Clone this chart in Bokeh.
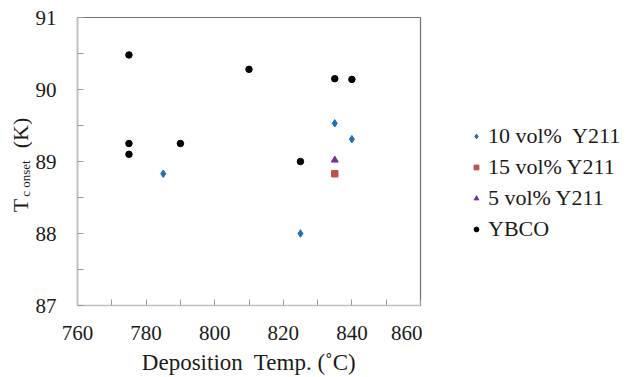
import math
from bokeh.plotting import figure
from bokeh.models import Range1d, Legend, LegendItem, Label, FixedTicker
from bokeh.layouts import row
from bokeh.embed import file_html
from bokeh.resources import INLINE

# data
ybco_x = [775, 775, 775, 790, 810, 825, 835, 840]
ybco_y = [90.48, 89.25, 89.10, 89.25, 90.28, 89.00, 90.15, 90.14]
v10_x = [785, 825, 835, 840]
v10_y = [88.83, 88.00, 89.53, 89.31]
v15_x = [835]
v15_y = [88.83]
v5_x = [835]
v5_y = [89.02]
series_names = ["10 vol%\u00a0 Y211", "15 vol% Y211", "5 vol% Y211", "YBCO"]
x_ticks = [760, 780, 800, 820, 840, 860]
y_ticks = [87, 88, 89, 90, 91]

FONT = "Liberation Serif"
TXT = "#1a1a1a"
styles = [("diamond", 7.5, "#1f6fb5"), ("square", 6.5, "#c0504d"),
          ("triangle", 7, "#7030a0"), ("circle", 6.5, "black")]
legend_sizes = [6, 5.5, 6, 5.5]
series = [(v10_x, v10_y), (v15_x, v15_y), (v5_x, v5_y), (ybco_x, ybco_y)]

# ---- y-axis title strip ----
pl = figure(frame_width=32, height=377, output_backend="svg", toolbar_location=None,
            x_range=Range1d(0, 1), y_range=Range1d(0, 1),
            x_axis_location=None, y_axis_location=None, title=None,
            min_border_left=0, min_border_right=0, min_border_top=0, min_border_bottom=0)
pl.grid.visible = False
pl.outline_line_color = None
lab_T = Label(x=20, y=100, x_units="screen", y_units="screen", text="T",
              angle=math.pi / 2, text_font=FONT, text_font_size="22px",
              text_color=TXT, text_align="center", text_baseline="middle")
lab_sub = Label(x=25, y=127, x_units="screen", y_units="screen", text="c onset",
                angle=math.pi / 2, text_font=FONT, text_font_size="13px",
                text_color=TXT, text_align="center", text_baseline="middle")
lab_K = Label(x=19.5, y=172.5, x_units="screen", y_units="screen", text="(K)",
              angle=math.pi / 2, text_font=FONT, text_font_size="22px",
              text_color=TXT, text_align="center", text_baseline="middle")
for l in (lab_T, lab_sub, lab_K):
    pl.add_layout(l)

# ---- main plot ----
p = figure(width=390, height=377, output_backend="svg", toolbar_location=None,
           x_range=Range1d(760, 860), y_range=Range1d(87, 91),
           min_border_left=41, min_border_right=2, min_border_top=17, min_border_bottom=72)
p.grid.visible = False
p.outline_line_color = "#707070"
p.outline_line_width = 1.2

for ax in (p.xaxis[0], p.yaxis[0]):
    ax.axis_line_color = "#bfbfbf"
    ax.axis_line_width = 1.5
    ax.major_tick_line_color = "#9a9a9a"
    ax.minor_tick_line_color = "#9a9a9a"
    ax.major_tick_in = 6
    ax.major_tick_out = 0
    ax.minor_tick_in = 6
    ax.minor_tick_out = 0
    ax.major_label_text_font = FONT
    ax.major_label_text_font_size = "21px"
    ax.major_label_text_color = TXT

p.xaxis[0].ticker = FixedTicker(ticks=x_ticks, minor_ticks=[770, 790, 810, 830, 850])
p.yaxis[0].ticker = FixedTicker(ticks=y_ticks, minor_ticks=[87.5, 88.5, 89.5, 90.5])
p.xaxis[0].major_label_standoff = 20
p.yaxis[0].major_label_standoff = 21
p.xaxis[0].axis_label = "Deposition\u00a0 Temp. (\u02daC)"
p.xaxis[0].axis_label_text_font = FONT
p.xaxis[0].axis_label_text_font_size = "23px"
p.xaxis[0].axis_label_text_font_style = "normal"
p.xaxis[0].axis_label_text_color = TXT
p.xaxis[0].axis_label_standoff = 7

for (xs, ys), (mk, sz, col) in zip(series, styles):
    p.scatter(xs, ys, marker=mk, size=sz, color=col)

# ---- legend strip (same series, outside this strip's visible range) ----
pg = figure(width=207, height=377, output_backend="svg", toolbar_location=None,
            x_range=Range1d(0, 1), y_range=Range1d(0, 1),
            x_axis_location=None, y_axis_location=None,
            min_border_left=0, min_border_right=0, min_border_top=0, min_border_bottom=0)
pg.grid.visible = False
pg.outline_line_color = None
items = []
for name, (xs, ys), (mk, sz, col), lsz in zip(series_names, series, styles, legend_sizes):
    r = pg.scatter(xs, ys, marker=mk, size=lsz, color=col)
    items.append(LegendItem(label=name, renderers=[r]))
legend = Legend(items=items, location=(48, 63), orientation="vertical",
                glyph_width=12, glyph_height=24, label_height=24, spacing=5,
                label_standoff=6, padding=0, margin=0,
                border_line_color=None, background_fill_alpha=0,
                label_text_font=FONT, label_text_font_size="22px",
                label_text_color=TXT, label_text_baseline="middle")
pg.add_layout(legend, "center")

layout = row(pl, p, pg, spacing=0)
open("out.html", "w").write(file_html(layout, INLINE))
